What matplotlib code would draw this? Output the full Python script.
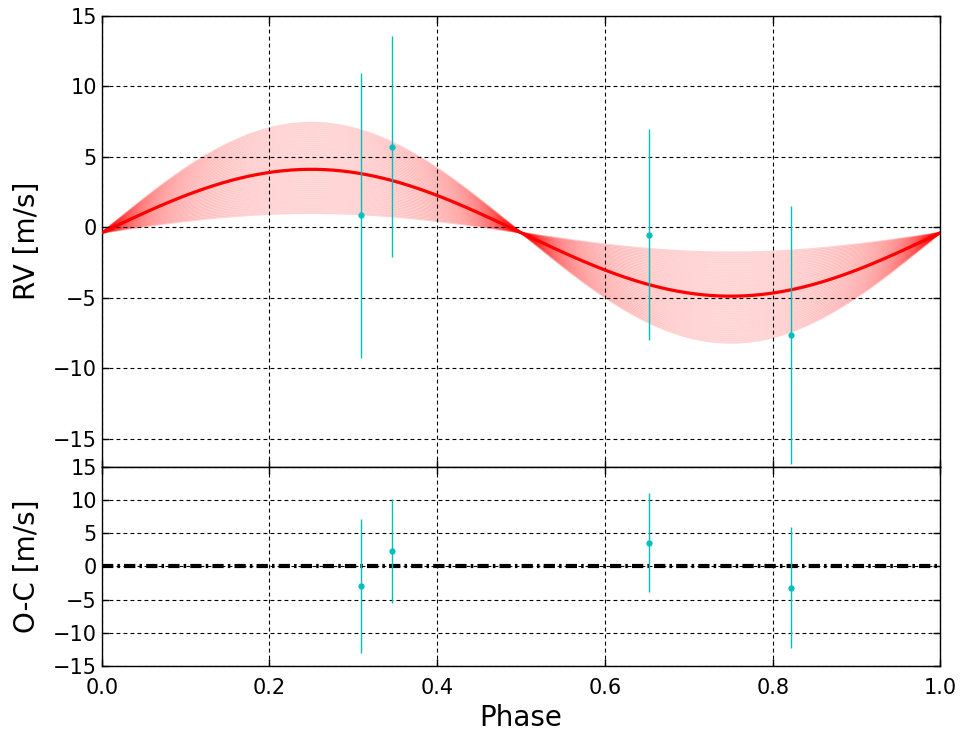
import matplotlib
matplotlib.use("Agg")
import matplotlib.pyplot as plt
import numpy as np

# Observed radial velocities, folded on the orbital phase
phase = [0.309, 0.346, 0.653, 0.822]
rv = [0.84, 5.70, -0.54, -7.65]
rv_err = [10.10, 7.85, 7.47, 9.15]
o_minus_c = [-2.90, 2.35, 3.55, -3.20]

# Fitted model (circular orbit): v = V0 + K sin(2 pi phase)
V0_FIT = -0.40
K_FIT = 4.50
K_SAMPLES_LOW = 1.40
K_SAMPLES_HIGH = 7.80
N_SAMPLES = 45

PT_COLOR = "c"
FIT_COLOR = "red"

plt.rcParams.update({
    "font.family": "DejaVu Sans",
    "xtick.direction": "in",
    "ytick.direction": "in",
    "xtick.top": True,
    "ytick.right": True,
})

fig = plt.figure(figsize=(9.6, 7.4), dpi=100)
ax_rv = fig.add_axes([0.106, 0.3693, 0.8736, 0.6095])
ax_oc = fig.add_axes([0.106, 0.1000, 0.8736, 0.2693], sharex=ax_rv)

# dash patterns are in units of line width
grid_kw = dict(color="black", linewidth=0.8, linestyle=(0, (3.5, 2.8)))

# --- top panel: RV curve ---
ph = np.linspace(0.0, 1.0, 400)
for k in np.linspace(K_SAMPLES_LOW, K_SAMPLES_HIGH, N_SAMPLES):
    ax_rv.plot(ph, V0_FIT + k * np.sin(2 * np.pi * ph),
               color=FIT_COLOR, alpha=0.17, linewidth=1.4, zorder=2)
ax_rv.plot(ph, V0_FIT + K_FIT * np.sin(2 * np.pi * ph),
           color=FIT_COLOR, linewidth=2.3, zorder=3)
ax_rv.errorbar(phase, rv, yerr=rv_err, fmt="o", color=PT_COLOR,
               ecolor=PT_COLOR, markersize=4.5, elinewidth=1.0,
               capsize=0, markeredgewidth=0, zorder=4)

ax_rv.set_xlim(0.0, 1.0)
ax_rv.set_ylim(-17, 15)
ax_rv.set_yticks([-15, -10, -5, 0, 5, 10, 15])
ax_rv.set_ylabel("RV [m/s]", fontsize=20)
ax_rv.grid(True, **grid_kw)
ax_rv.tick_params(labelbottom=False)

# --- bottom panel: residuals ---
ax_oc.axhline(0.0, color="black", linewidth=3.0,
              linestyle=(0, (2.7, 1.0, 0.6, 1.0)), zorder=2)
ax_oc.errorbar(phase, o_minus_c, yerr=rv_err, fmt="o", color=PT_COLOR,
               ecolor=PT_COLOR, markersize=4.5, elinewidth=1.0,
               capsize=0, markeredgewidth=0, zorder=4)
ax_oc.set_ylim(-15, 15)
ax_oc.set_yticks([-15, -10, -5, 0, 5, 10, 15])
ax_oc.set_xticks([0.0, 0.2, 0.4, 0.6, 0.8, 1.0])
ax_oc.set_ylabel("O-C [m/s]", fontsize=20)
ax_oc.set_xlabel("Phase", fontsize=20)
ax_oc.grid(True, **grid_kw)

for ax in (ax_rv, ax_oc):
    ax.tick_params(axis="both", labelsize=15, length=5, width=1.0)
    ax.tick_params(axis="x", pad=9)
    for spine in ax.spines.values():
        spine.set_linewidth(1.0)
    ax.set_axisbelow(False)

ax_rv.yaxis.set_label_coords(-0.072, 0.5)
ax_oc.yaxis.set_label_coords(-0.072, 0.5)

fig.savefig("out.png", dpi=100, facecolor="white")
